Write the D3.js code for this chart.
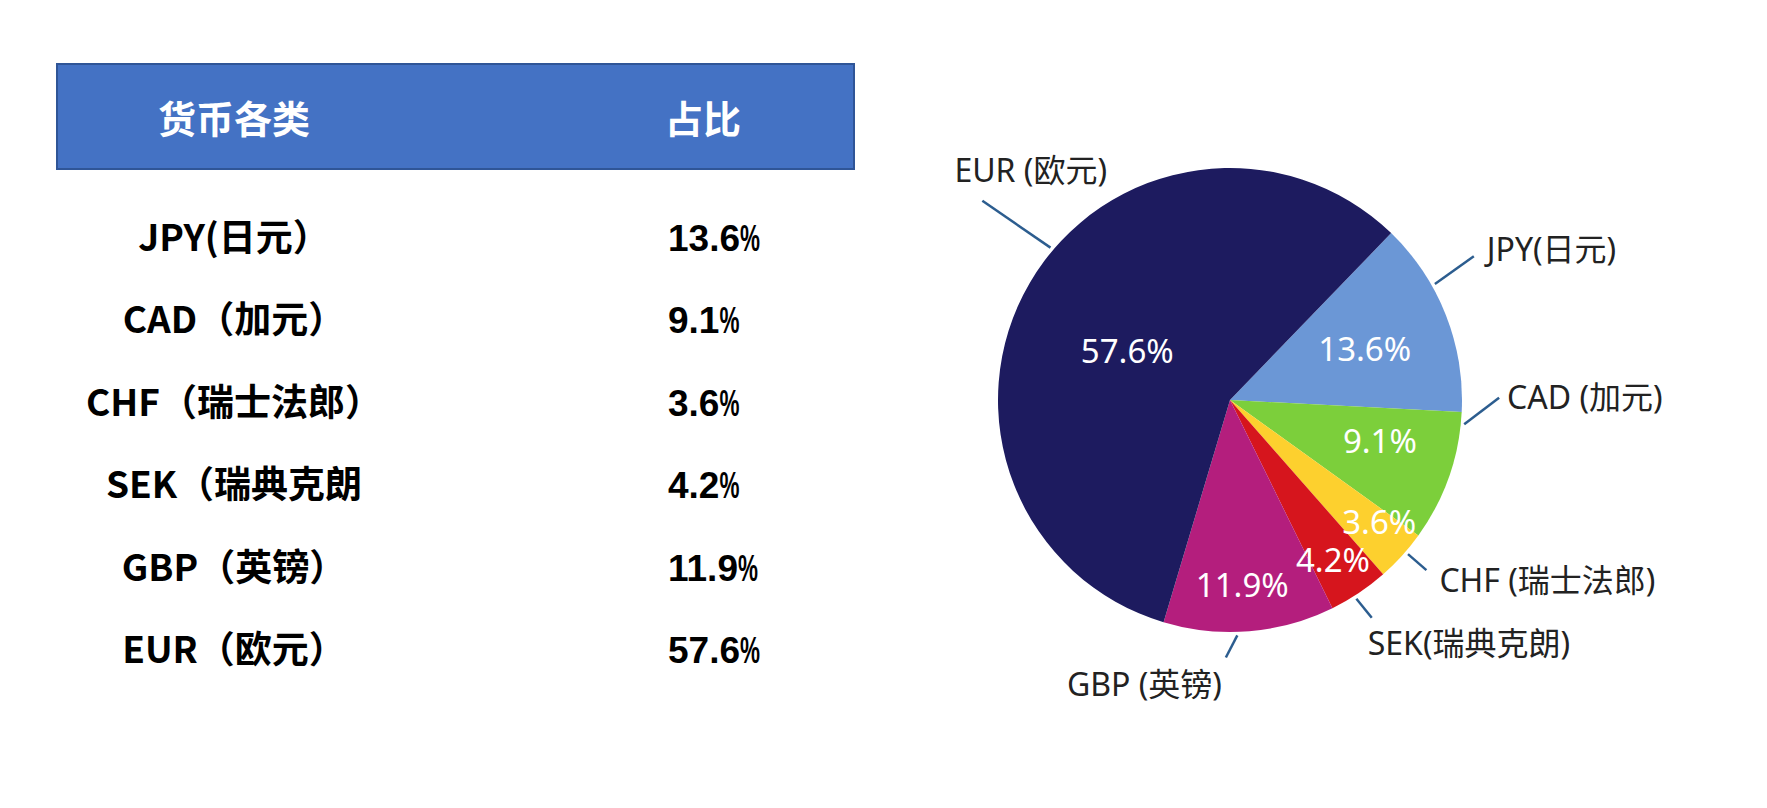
<!DOCTYPE html>
<html>
<head>
<meta charset="utf-8">
<style>
  body { margin: 0; background: #fff; }
  svg { display: block; }
  .head { font-family: 'Noto Sans CJK SC', sans-serif; font-weight: bold; font-size: 38px; fill: #fff; }
  .row-name { font-family: 'Noto Sans CJK SC', sans-serif; font-weight: bold; font-size: 37px; fill: #000; }
  .row-val { font-family: 'Liberation Sans', Arial, sans-serif; font-weight: bold; font-size: 37px; fill: #000; }
  .slice-val { font-family: 'Noto Sans', 'Noto Sans CJK SC', sans-serif; font-size: 33px; fill: #fff; }
  .callout { font-family: 'Noto Sans', 'Noto Sans CJK SC', sans-serif; font-size: 32px; fill: #222; }
</style>
</head>
<body>
<svg id="chart" width="1767" height="808"></svg>
<script src="https://d3js.org/d3.v7.min.js"></script>
<script>
// data
const currencies = ['JPY', 'CAD', 'CHF', 'SEK', 'GBP', 'EUR'];
const tableNames = ['JPY(日元）', 'CAD（加元）', 'CHF（瑞士法郎）', 'SEK（瑞典克朗', 'GBP（英镑）', 'EUR（欧元）'];
const pieNames = ['JPY(日元)', 'CAD (加元)', 'CHF (瑞士法郎)', 'SEK(瑞典克朗)', 'GBP (英镑)', 'EUR (欧元)'];
const shares = [13.6, 9.1, 3.6, 4.2, 11.9, 57.6];
const headers = ['货币各类', '占比'];
const colors = ['#6b97d6', '#7ccf3b', '#fdd02e', '#d6151d', '#b41e7d', '#1d1b5f'];

const rows = currencies.map((c, i) => ({ code: c, table: tableNames[i], pie: pieNames[i], share: shares[i] }));
const num = d3.format('.1f');
const fmt = v => num(v) + '%';

const svg = d3.select('#chart');

// ---- table on the left ----
const tbl = { left: 57, right: 854, top: 64, bottom: 169, nameX: 234, headValX: 703, valX: 668 };

svg.append('rect')
  .attr('x', tbl.left).attr('y', tbl.top)
  .attr('width', tbl.right - tbl.left).attr('height', tbl.bottom - tbl.top)
  .attr('fill', '#4472c4').attr('stroke', '#2f5597').attr('stroke-width', 2);

svg.selectAll('.head').data(headers).join('text')
  .attr('class', 'head')
  .attr('x', (d, i) => i === 0 ? tbl.nameX : tbl.headValX)
  .attr('y', 133)
  .attr('text-anchor', 'middle')
  .text(d => d);

const rowY = d3.scalePoint().domain(currencies).range([251, 663]);

svg.selectAll('.row-name').data(rows).join('text')
  .attr('class', 'row-name')
  .attr('x', tbl.nameX)
  .attr('y', d => rowY(d.code))
  .attr('text-anchor', 'middle')
  .text(d => d.table);

const vals = svg.selectAll('.row-val').data(rows).join('text')
  .attr('class', 'row-val')
  .attr('x', tbl.valX)
  .attr('y', d => rowY(d.code));
vals.append('tspan').text(d => num(d.share));
// the sheet uses a narrow percent sign
vals.append('tspan').attr('textLength', 20).attr('lengthAdjust', 'spacingAndGlyphs').text('%');

// ---- pie on the right ----
const cx = 1230, cy = 400, r = 232;
const deg = Math.PI / 180;
const start = 44 * deg;

const pie = d3.pie().sort(null).value(d => d.share)
  .startAngle(start).endAngle(start + 2 * Math.PI);
const arcs = pie(rows);

const g = svg.append('g').attr('transform', `translate(${cx},${cy})`);

g.selectAll('path').data(arcs).join('path')
  .attr('d', d3.arc().innerRadius(0).outerRadius(r))
  .attr('fill', (d, i) => colors[i]);

// where the value sits inside each slice: fraction of radius, small turn from the middle (deg)
const valuePos = {
  JPY: { f: 0.62, turn: 1 }, CAD: { f: 0.67, turn: -4 }, CHF: { f: 0.83, turn: -3 },
  SEK: { f: 0.82, turn: 1 }, GBP: { f: 0.80, turn: 1 }, EUR: { f: 0.49, turn: -5 }
};
// callout leader: angle turn from slice middle, end bend, outer radius, text offset
const callout = {
  EUR: { turn: 10, bend: -1.5, r1: 1.37, dx: -28, dy: -19, anchor: 'start' },
  JPY: { turn: -8, bend: -1, r1: 1.22, dx: 13, dy: 5, anchor: 'start' },
  CAD: { turn: -13.4, bend: -6.4, r1: 1.16, dx: 8, dy: 11, anchor: 'start' },
  CHF: { turn: -1.3, bend: 0, r1: 1.12, dx: 13, dy: 22, anchor: 'start' },
  SEK: { turn: 1.3, bend: -0.6, r1: 1.12, dx: -4, dy: 37, anchor: 'start' },
  GBP: { turn: 3, bend: 2.7, r1: 1.11, dx: -4, dy: 39, anchor: 'end' }
};
const mid = d => (d.startAngle + d.endAngle) / 2;

g.selectAll('.slice-val').data(arcs).join('text')
  .attr('class', 'slice-val')
  .attr('text-anchor', 'middle')
  .attr('dy', '0.36em')
  .attr('transform', d => {
    const v = valuePos[d.data.code];
    const p = d3.pointRadial(mid(d) + v.turn * deg, r * v.f);
    return `translate(${p[0]},${p[1]})`;
  })
  .text(d => fmt(d.data.share));

const leaderEnds = d => {
  const c = callout[d.data.code];
  const a0 = mid(d) + c.turn * deg;
  return [d3.pointRadial(a0, r * 1.015), d3.pointRadial(a0 + c.bend * deg, r * c.r1)];
};

g.selectAll('.leader').data(arcs).join('line')
  .attr('class', 'leader')
  .attr('x1', d => leaderEnds(d)[0][0]).attr('y1', d => leaderEnds(d)[0][1])
  .attr('x2', d => leaderEnds(d)[1][0]).attr('y2', d => leaderEnds(d)[1][1])
  .attr('stroke', '#2c5d8f').attr('stroke-width', 2.5);

g.selectAll('.callout').data(arcs).join('text')
  .attr('class', 'callout')
  .attr('text-anchor', d => callout[d.data.code].anchor)
  .attr('x', d => leaderEnds(d)[1][0] + callout[d.data.code].dx)
  .attr('y', d => leaderEnds(d)[1][1] + callout[d.data.code].dy)
  .text(d => d.data.pie);
</script>
</body>
</html>
